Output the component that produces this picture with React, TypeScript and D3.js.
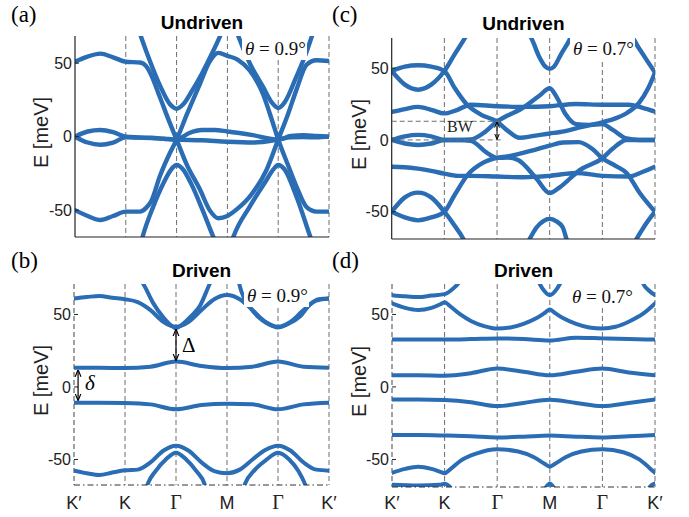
import * as d3 from 'd3'

type Pt = [number, number]

// k-path positions and names
const K_POS = [0, 1, 2, 3, 4, 5]
const K_NAMES = ['K′', 'K', 'Γ', 'M', 'Γ', 'K′']
const E_TICKS = [50, 0, -50]

// (a) undriven, 0.9 deg  -- [k, E in meV]
const A_DIRAC_1: Pt[] = [[0, 51], [0.25, 54.5], [0.5, 56.5], [0.75, 54], [1, 51], [1.28, 50.5], [1.4, 48], [1.5, 42], [1.67, 27], [1.87, 9], [2, -2], [2.2, -19], [2.46, -36], [2.65, -50], [2.82, -55.5], [3, -54], [3.2, -49], [3.44, -40.8], [3.77, -22.7], [4, -2], [4.2, 16], [4.36, 32], [4.56, 49], [4.75, 52], [5, 51.5]]
const A_DIRAC_2: Pt[] = [[0, -50], [0.25, -54], [0.5, -56.7], [0.75, -54], [1, -51], [1.28, -51], [1.4, -48.5], [1.5, -44], [1.67, -27], [1.87, -11], [2, -2], [2.2, 15], [2.46, 36], [2.65, 51], [2.82, 57], [3, 55], [3.2, 52.5], [3.44, 45], [3.7, 29], [3.87, 12], [4, -2], [4.2, -20], [4.36, -34], [4.56, -48], [4.75, -51], [5, -51]]
const A_V1: Pt[] = [[1.25, 73], [1.31, 67], [1.48, 51], [1.67, 35], [1.87, 22], [2, 19], [2.13, 22], [2.3, 31], [2.5, 43], [2.66, 54], [2.85, 68], [2.92, 74]]
const A_V2: Pt[] = [[3.16, 74], [3.22, 68], [3.44, 50], [3.7, 34], [3.88, 23], [4, 19.5], [4.12, 23], [4.36, 41], [4.55, 57], [4.66, 68], [4.72, 74]]
const A_IV1: Pt[] = [[1.3, -72], [1.34, -67], [1.54, -47.6], [1.74, -31.7], [1.9, -22], [2, -19.3], [2.12, -22], [2.3, -33], [2.5, -49], [2.72, -68], [2.77, -72]]
const A_IV2: Pt[] = [[3.08, -72], [3.12, -68], [3.44, -47.6], [3.77, -29.5], [3.9, -22.5], [4, -19.3], [4.12, -22], [4.36, -40.8], [4.63, -68], [4.67, -72]]
const A_FLAT_1: Pt[] = [[0, 0], [0.25, 3.5], [0.5, 4.5], [0.75, 3], [1, 0], [1.25, -0.5], [1.5, -0.8], [1.75, -1.4], [2, -2], [2.25, 2.5], [2.5, 4.5], [2.75, 4.5], [3, 3.5], [3.5, 1], [4, -2], [4.25, 0.5], [4.5, 1], [4.75, 0.5], [5, 0]]
const A_FLAT_2: Pt[] = [[0, 0], [0.25, -4], [0.5, -5.5], [0.75, -4], [1, -0.5], [1.5, -1], [2, -2], [2.5, -2.5], [3, -3.5], [3.5, -4], [4, -2], [4.25, -0.5], [4.5, -0.3], [4.75, -0.5], [5, 0]]

// (b) driven, 0.9 deg
const B_TOP: Pt[] = [[0, 61], [0.25, 62], [0.5, 62.8], [0.75, 61.5], [1, 60.5], [1.25, 58.5], [1.5, 53], [1.75, 45], [2, 41.5], [2.25, 45], [2.5, 53], [2.75, 60.5], [3, 63.4], [3.25, 60.5], [3.5, 53], [3.75, 45], [4, 41.5], [4.25, 45], [4.5, 53], [4.75, 59.5], [5, 61]]
const B_V1: Pt[] = [[1.3, 74], [1.35, 71.5], [1.55, 58], [1.75, 48], [1.9, 42.5], [2, 40.5], [2.1, 42.5], [2.3, 49], [2.47, 56], [2.66, 71], [2.7, 74]]
const B_V2: Pt[] = [[3.22, 74], [3.28, 66], [3.45, 55], [3.62, 48], [3.78, 44], [4, 41], [4.2, 43.5], [4.43, 48.5], [4.63, 57], [4.8, 60.5], [5, 61]]
const B_MID_UP: Pt[] = [[0, 13.3], [0.5, 13.3], [1, 13], [1.5, 14], [2, 17.5], [2.5, 14.5], [3, 13], [3.5, 14], [4, 17.5], [4.5, 14], [5, 13.3]]
const B_MID_DN: Pt[] = [[0, -10.8], [0.5, -10.8], [1, -11], [1.5, -12], [2, -15.4], [2.5, -12.5], [3, -11.5], [3.5, -12], [4, -15.4], [4.5, -12], [5, -10.8]]
const B_BOT: Pt[] = [[0, -57.7], [0.25, -59.5], [0.5, -60.7], [0.75, -59], [1, -57.5], [1.25, -57], [1.5, -52], [1.75, -44], [2, -40.5], [2.25, -44], [2.5, -52], [2.75, -58], [3, -59.5], [3.25, -57], [3.5, -50], [3.75, -43.5], [4, -40.5], [4.25, -44], [4.5, -52], [4.75, -57], [5, -57.7]]
const B_IV1: Pt[] = [[1.4, -72], [1.45, -66.5], [1.6, -58], [1.8, -50], [2, -45.3], [2.2, -50], [2.4, -58], [2.56, -67], [2.6, -72]]
const B_IV2: Pt[] = [[3.3, -72], [3.35, -67], [3.55, -57], [3.78, -50], [4, -45.3], [4.22, -50], [4.4, -58], [4.53, -67], [4.58, -72]]

// (c) undriven, 0.7 deg
const C_U_A: Pt[] = [[0, 48], [0.25, 51], [0.5, 52], [0.75, 51], [1, 48], [1.2, 36], [1.42, 25], [1.7, 17.5], [2, 12.8], [2.2, 6.5], [2.43, 1.5], [2.7, 2.8], [3, 4.5], [3.2, 5.5], [3.55, 8.5], [4, 12.3], [4.25, 15], [4.46, 18.6], [4.7, 26], [4.87, 36], [5, 47]]
const C_U_B: Pt[] = [[0, 48], [0.25, 38.5], [0.5, 35], [0.75, 38.5], [1, 48], [1.2, 60], [1.39, 71], [1.45, 75]]
const C_U_C: Pt[] = [[0, 19.5], [0.25, 21.5], [0.5, 23], [0.75, 21], [1, 18.5], [1.25, 21], [1.5, 24.5], [2, 23.5], [2.5, 23], [3, 23.5], [3.5, 25], [4, 24.5], [4.5, 24.5], [4.75, 22.5], [5, 19.7]]
const C_U_D: Pt[] = [[0, 0], [0.25, 2.5], [0.5, 3.5], [0.75, 2.5], [1, 0], [1.25, 0], [1.5, 0.3], [1.75, 5], [2, 12.8], [2.2, 17], [2.43, 21], [2.81, 31], [3, 36], [3.13, 30], [3.3, 18], [3.5, 11], [3.75, 10.5], [4, 11], [4.2, 7], [4.46, 1], [4.7, 0], [5, 0]]
const C_U_E: Pt[] = [[4.55, 74], [4.6, 70], [4.8, 58], [5, 47]]
const C_U_F: Pt[] = [[2.6, 74], [2.65, 71], [2.8, 58], [2.92, 51], [3, 49.5], [3.08, 51], [3.22, 60], [3.38, 70], [3.43, 74]]
const C_L_A: Pt[] = [[0, -50], [0.25, -54], [0.5, -56], [0.75, -54], [1, -50], [1.2, -38], [1.45, -24], [1.73, -16], [2, -12.5], [2.2, -11.5], [2.6, -8], [3, -4], [3.25, -1.8], [3.55, -1.5], [3.8, -6], [4, -12.8], [4.25, -18], [4.46, -23], [4.71, -37], [5, -50]]
const C_L_B: Pt[] = [[0, -50], [0.25, -40], [0.5, -36.7], [0.75, -40], [1, -50], [1.2, -60], [1.36, -69], [1.42, -74]]
const C_L_C: Pt[] = [[0, -18.7], [0.25, -19], [0.5, -20], [0.75, -21.5], [1, -23.5], [1.25, -25], [1.5, -25], [2, -25.5], [2.5, -26], [3, -25], [3.5, -23], [4, -25], [4.5, -25.5], [4.75, -22.5], [5, -18.6]]
const C_L_D: Pt[] = [[0, 0], [0.25, -2.5], [0.5, -3.5], [0.75, -2.5], [1, 0], [1.25, 0], [1.5, -0.7], [1.83, -9.5], [2, -12.5], [2.2, -12.3], [2.4, -14], [2.75, -27], [3, -37], [3.19, -33], [3.57, -21], [4, -12.8], [4.2, -6], [4.46, 0], [4.75, 0], [5, 0]]
const C_L_E: Pt[] = [[4.58, -74], [4.62, -71], [4.8, -60], [5, -50]]
const C_L_F: Pt[] = [[2.55, -74], [2.62, -69], [2.75, -61], [2.88, -56.5], [3, -55], [3.12, -56.5], [3.25, -61], [3.32, -69], [3.4, -74]]

// (d) driven, 0.7 deg
const D_TOP_A: Pt[] = [[0, 63.3], [0.25, 62.5], [0.5, 62], [0.75, 63], [1, 64], [1.15, 67.5], [1.26, 71.4], [1.32, 75]]
const D_TOP_B: Pt[] = [[0, 57.6], [0.25, 54.5], [0.5, 53], [0.75, 54.5], [0.92, 57], [1, 58.5], [1.08, 56.5], [1.3, 50], [1.5, 45.5], [1.75, 42], [2, 40.3], [2.25, 41], [2.5, 43.5], [2.75, 47.5], [2.92, 51.5], [3, 53.5], [3.08, 51.5], [3.25, 47.5], [3.5, 43.5], [3.75, 41], [4, 40.3], [4.25, 41.5], [4.5, 45], [4.78, 50.7], [5, 57.6]]
const D_TOP_V: Pt[] = [[2.76, 75], [2.81, 71], [2.9, 66], [3, 63.3], [3.1, 66], [3.19, 71], [3.24, 75]]
const D_TOP_E: Pt[] = [[4.74, 75], [4.78, 71], [4.9, 66], [5, 63.3]]
const D_33: Pt[] = [[0, 32.7], [0.5, 32.7], [1, 32.7], [1.5, 33], [2, 33.5], [2.5, 33], [3, 32], [3.5, 34], [4, 33.5], [4.5, 33], [5, 32.7]]
const D_8: Pt[] = [[0, 8.1], [0.5, 8.1], [1, 7.8], [1.5, 9.5], [2, 12.7], [2.5, 10.5], [3, 8], [3.5, 10.5], [4, 12.7], [4.5, 10], [5, 8.1]]
const D_M9: Pt[] = [[0, -8.6], [0.5, -8.6], [1, -9], [1.5, -10.5], [2, -13.2], [2.5, -11], [3, -8.8], [3.5, -11], [4, -13.2], [4.5, -11], [5, -8.6]]
const D_M33: Pt[] = [[0, -33.2], [0.5, -33.2], [1, -33.5], [1.5, -34], [2, -34.8], [2.5, -34.3], [3, -33.5], [3.5, -34.3], [4, -34.8], [4.5, -34], [5, -33.2]]
const D_LOW: Pt[] = [[0, -59.2], [0.25, -56.5], [0.5, -55], [0.75, -56.5], [0.92, -58.5], [1, -59.5], [1.1, -57], [1.3, -51], [1.6, -46], [2, -43], [2.4, -44.5], [2.7, -48.5], [2.9, -53], [3, -55], [3.1, -53], [3.3, -48.5], [3.6, -44.5], [4, -43], [4.4, -45], [4.7, -50], [4.9, -56], [5, -59.2]]
const D_BOT_L: Pt[] = [[0, -67.5], [0.5, -68], [0.9, -67.5], [1, -66.8], [1.1, -69], [1.2, -74]]
const D_BOT_M: Pt[] = [[2.86, -74], [2.93, -69], [3, -66.5], [3.07, -69], [3.14, -74]]
const D_BOT_R: Pt[] = [[4.83, -74], [4.9, -69], [5, -66.5]]

// annotations
const BW_LEVELS = [13, 0]
const GAP_BIG = [39.5, 18.5]
const GAP_SMALL = [11.5, -9]

const BLUE = '#2a6db4'
const GRID = '#6e6e6e'
const SANS = '"Liberation Sans", Arial, sans-serif'
const SERIF = '"Liberation Serif", "Times New Roman", serif'

type PanelCfg = {
  id: string
  x0: number
  x1: number
  yTop: number
  yBot: number
  eMin: number
  eMax: number
  solid: boolean
  lw: number
  title: string
  titleY: number
  tag: string
  tagX: number
  tagY: number
  theta: string
  thetaX: number
  thetaY: number
  yLabelX: number
  kLabels: boolean
  bands: Pt[][]
}

const PANELS: PanelCfg[] = [
  { id: 'a', x0: 75, x1: 329, yTop: 36, yBot: 237, eMin: -68.3, eMax: 68.5, solid: true, lw: 4.4, title: 'Undriven', titleY: 29, tag: '(a)', tagX: 11, tagY: 22, theta: '0.9', thetaX: 245, thetaY: 55, yLabelX: 41, kLabels: false,
    bands: [A_DIRAC_1, A_DIRAC_2, A_V1, A_V2, A_IV1, A_IV2, A_FLAT_1, A_FLAT_2] },
  { id: 'b', x0: 74, x1: 329, yTop: 284, yBot: 485, eMin: -67.6, eMax: 71, solid: false, lw: 4, title: 'Driven', titleY: 277, tag: '(b)', tagX: 11, tagY: 268, theta: '0.9', thetaX: 247, thetaY: 302, yLabelX: 41, kLabels: true,
    bands: [B_TOP, B_V1, B_V2, B_MID_UP, B_MID_DN, B_BOT, B_IV1, B_IV2] },
  { id: 'c', x0: 391.7, x1: 655, yTop: 38, yBot: 239, eMin: -69, eMax: 71, solid: true, lw: 4.4, title: 'Undriven', titleY: 30, tag: '(c)', tagX: 332, tagY: 22, theta: '0.7', thetaX: 573, thetaY: 55, yLabelX: 359, kLabels: false,
    bands: [C_U_A, C_U_B, C_U_C, C_U_D, C_U_E, C_U_F, C_L_A, C_L_B, C_L_C, C_L_D, C_L_E, C_L_F] },
  { id: 'd', x0: 392, x1: 655, yTop: 284, yBot: 487, eMin: -69, eMax: 71, solid: false, lw: 4, title: 'Driven', titleY: 277, tag: '(d)', tagX: 332, tagY: 268, theta: '0.7', thetaX: 572, thetaY: 303, yLabelX: 359, kLabels: true,
    bands: [D_TOP_A, D_TOP_B, D_TOP_V, D_TOP_E, D_33, D_8, D_M9, D_M33, D_LOW, D_BOT_L, D_BOT_M, D_BOT_R] },
]

function Panel({ p }: { p: PanelCfg }) {
  const x = d3.scaleLinear().domain([0, 5]).range([p.x0, p.x1])
  const y = d3.scaleLinear().domain([p.eMin, p.eMax]).range([p.yBot, p.yTop])
  const line = d3.line<Pt>().x((d) => x(d[0])).y((d) => y(d[1])).curve(d3.curveMonotoneX)
  const clipId = `clip-${p.id}`

  return (
    <g>
      <defs>
        <clipPath id={clipId}>
          <rect x={p.x0} y={p.yTop} width={p.x1 - p.x0} height={p.yBot - p.yTop} />
        </clipPath>
      </defs>

      {/* high symmetry lines */}
      {K_POS.map((k, i) =>
        p.solid && i === 0 ? null : (
          <line key={i} x1={x(k)} x2={x(k)} y1={p.yTop} y2={p.yBot}
            stroke={i === 0 ? '#444' : GRID} strokeWidth={1} strokeDasharray="5,3" />
        ),
      )}

      <g clipPath={`url(#${clipId})`} fill="none" stroke={BLUE} strokeWidth={p.lw} strokeLinecap="round" strokeLinejoin="round">
        {p.bands.map((b, i) => (
          <path key={i} d={line(b) ?? ''} />
        ))}
      </g>

      {/* axes */}
      {p.solid ? (
        <g stroke="#222" strokeWidth={1.2}>
          <line x1={p.x0} x2={p.x0} y1={p.yTop} y2={p.yBot} />
          <line x1={p.x0} x2={p.x1} y1={p.yBot} y2={p.yBot} />
        </g>
      ) : (
        <line x1={p.x0} x2={p.x1} y1={p.yBot} y2={p.yBot} stroke="#333" strokeWidth={1} strokeDasharray="6,3,1.5,3" />
      )}
      {E_TICKS.map((t) => (
        <g key={t}>
          <line x1={p.x0} x2={p.x0 + 4} y1={y(t)} y2={y(t)} stroke="#222" strokeWidth={1} />
          <text x={p.x0 - 3} y={y(t)} dy="0.35em" textAnchor="end" fontFamily={SANS} fontSize={16} fill="#222">
            {t}
          </text>
        </g>
      ))}

      <text transform={`translate(${p.yLabelX + 7},${(p.yTop + p.yBot) / 2 - 4}) rotate(-90)`} textAnchor="middle"
        fontFamily={SANS} fontSize={20} fill="#222">
        E [meV]
      </text>

      {p.kLabels &&
        K_POS.map((k, i) => (
          <text key={i} x={x(k)} y={509} textAnchor="middle" fill="#222"
            fontFamily={K_NAMES[i] === 'Γ' ? SERIF : SANS} fontSize={K_NAMES[i] === 'Γ' ? 20 : 18}>
            {K_NAMES[i]}
          </text>
        ))}

      <text x={(p.x0 + p.x1) / 2} y={p.titleY} textAnchor="middle" fontFamily={SANS} fontWeight="bold" fontSize={19} fill="#000">
        {p.title}
      </text>
      <text x={p.tagX} y={p.tagY} fontFamily={SERIF} fontSize={23} fill="#000">
        {p.tag}
      </text>

      <rect x={p.thetaX - 3} y={p.yTop} width={65} height={p.thetaY + 5 - p.yTop} fill="#fff" />
      <text x={p.thetaX} y={p.thetaY} fontFamily={SERIF} fontSize={19} fill="#111">
        <tspan fontStyle="italic">θ</tspan> = {p.theta}°
      </text>

      {p.id === 'c' && (
        <g>
          {BW_LEVELS.map((e, i) => (
            <line key={i} x1={p.x0} x2={x(2) + 6} y1={y(e)} y2={y(e)} stroke={GRID} strokeWidth={1} strokeDasharray="5,3" />
          ))}
          <line x1={x(2)} x2={x(2)} y1={y(BW_LEVELS[0]) + 1} y2={y(BW_LEVELS[1]) - 1} stroke="#000" strokeWidth={1}
            markerStart="url(#arr)" markerEnd="url(#arr)" />
          <text x={447} y={132} fontFamily={SERIF} fontSize={16} fill="#222">BW</text>
        </g>
      )}
      {p.id === 'b' && (
        <g>
          <line x1={x(2)} x2={x(2)} y1={y(GAP_BIG[0])} y2={y(GAP_BIG[1])} stroke="#000" strokeWidth={1.2}
            markerStart="url(#arr)" markerEnd="url(#arr)" />
          <text x={182} y={352} fontFamily={SERIF} fontSize={21} fill="#000">Δ</text>
          <line x1={x(0.08)} x2={x(0.08)} y1={y(GAP_SMALL[0])} y2={y(GAP_SMALL[1])} stroke="#000" strokeWidth={1.2}
            markerStart="url(#arr)" markerEnd="url(#arr)" />
          <text x={85} y={390} fontFamily={SERIF} fontStyle="italic" fontSize={21} fill="#000">δ</text>
        </g>
      )}
    </g>
  )
}

export default function App() {
  return (
    <svg width={689} height={517} viewBox="0 0 689 517"
      style={{ position: 'absolute', left: 0, top: 0, background: '#fff' }}>
      <defs>
        <marker id="arr" viewBox="0 0 10 10" refX={9} refY={5} markerWidth={6} markerHeight={6} orient="auto-start-reverse">
          <path d="M0,1 L10,5 L0,9" fill="none" stroke="#000" strokeWidth={1.6} />
        </marker>
      </defs>
      <rect width={689} height={517} fill="#fff" />
      {PANELS.map((p) => (
        <Panel key={p.id} p={p} />
      ))}
    </svg>
  )
}
